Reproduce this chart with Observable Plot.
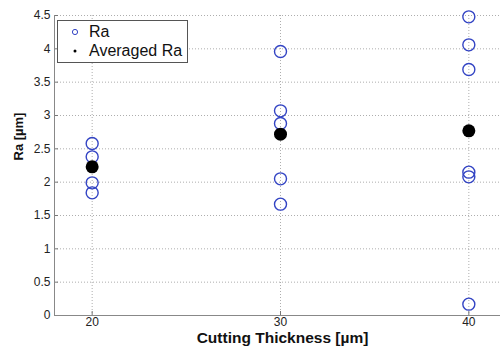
<!DOCTYPE html>
<html>
<head>
<meta charset="utf-8">
<script src="https://cdn.jsdelivr.net/npm/d3@7"></script>
<script src="https://cdn.jsdelivr.net/npm/@observablehq/plot@0.6"></script>
<style>
  html, body { margin: 0; padding: 0; background: #fff; overflow: hidden; width: 500px; height: 349px; }
  #wrap { position: relative; width: 500px; height: 349px; overflow: hidden; font-family: "Liberation Sans", Arial, sans-serif; }
  #wrap > svg { max-width: none !important; display: block; }
  #legend { position: absolute; left: 57px; top: 20px; width: 131px; height: 43px; border: 1px solid #555; background: #fff; box-sizing: border-box; font-size: 16px; color: #111; }
  .item { position: absolute; left: 0; height: 20px; line-height: 20px; }
  .item span { position: absolute; left: 31px; white-space: nowrap; }
  .item svg { position: absolute; left: 12px; top: 5px; }
</style>
</head>
<body>
<div id="wrap"></div>
<script>
const thickness = [20, 30, 40];
const raValues = [
  [2.58, 2.38, 1.99, 1.84],
  [3.96, 3.07, 2.88, 2.05, 1.67],
  [4.48, 4.06, 3.69, 2.15, 2.08, 0.17]
];
const averagedRa = [2.23, 2.72, 2.77];
const yTicks = [0, 0.5, 1, 1.5, 2, 2.5, 3, 3.5, 4, 4.5];
const xTicks = [20, 30, 40];
const seriesNames = ["Ra", "Averaged Ra"];

const raPoints = thickness.flatMap((t, i) => raValues[i].map(v => ({t, v})));
const avgPoints = thickness.map((t, i) => ({t, v: averagedRa[i]}));

const blue = "#3344c4";
const gridStyle = {stroke: "#999", strokeOpacity: 1, strokeDasharray: "1,2", strokeWidth: 0.8};

const chart = Plot.plot({
  width: 506,
  height: 349,
  marginLeft: 54,
  marginRight: 0,
  marginTop: 15,
  marginBottom: 34,
  style: {fontFamily: "Liberation Sans, Arial, sans-serif", fontSize: "12px", color: "#222", background: "#fff", maxWidth: "none"},
  x: {domain: [18, 42], ticks: xTicks},
  y: {domain: [0, 4.5], ticks: yTicks},
  marks: [
    Plot.gridY(yTicks.filter(d => d > 0), gridStyle),
    Plot.gridX(xTicks, gridStyle),
    Plot.axisY(yTicks, {tickSize: 0, tickPadding: 4, fontSize: 12, label: null, tickFormat: d => String(d)}),
    Plot.axisY(yTicks, {tickSize: -4, text: null, stroke: "#777", label: null}),
    Plot.axisX(xTicks, {tickSize: 0, tickPadding: 2, fontSize: 12, label: null}),
    Plot.axisX(xTicks, {tickSize: -4, text: null, stroke: "#777", label: null}),
    Plot.ruleX([18], {stroke: "#888", strokeWidth: 1}),
    Plot.ruleY([0], {stroke: "#888", strokeWidth: 1}),
    Plot.dot(raPoints, {x: "t", y: "v", r: 6, stroke: blue, strokeWidth: 1.4, fill: "none"}),
    Plot.dot(avgPoints, {x: "t", y: "v", r: 6.5, fill: "#000", stroke: "none"}),
    Plot.text(["Cutting Thickness [µm]"], {frameAnchor: "bottom", dy: 27.5, dx: 2, fontWeight: "bold", fontSize: 15.5, fill: "#111"}),
    Plot.text(["Ra [µm]"], {frameAnchor: "left", dx: -36, dy: -5, rotate: -90, fontWeight: "bold", fontSize: 13, fill: "#111"})
  ]
});

const wrap = document.getElementById("wrap");
wrap.appendChild(chart);

const legend = document.createElement("div");
legend.id = "legend";
legend.innerHTML = `
  <div class="item" style="top:1px;width:100%"><svg width="10" height="10"><circle cx="5" cy="5" r="2.6" fill="none" stroke="${blue}" stroke-width="1"/></svg><span>${seriesNames[0]}</span></div>
  <div class="item" style="top:20px;width:100%"><svg width="10" height="10"><circle cx="5" cy="5" r="1.5" fill="#000"/></svg><span>${seriesNames[1]}</span></div>`;
wrap.appendChild(legend);
</script>
</body>
</html>
